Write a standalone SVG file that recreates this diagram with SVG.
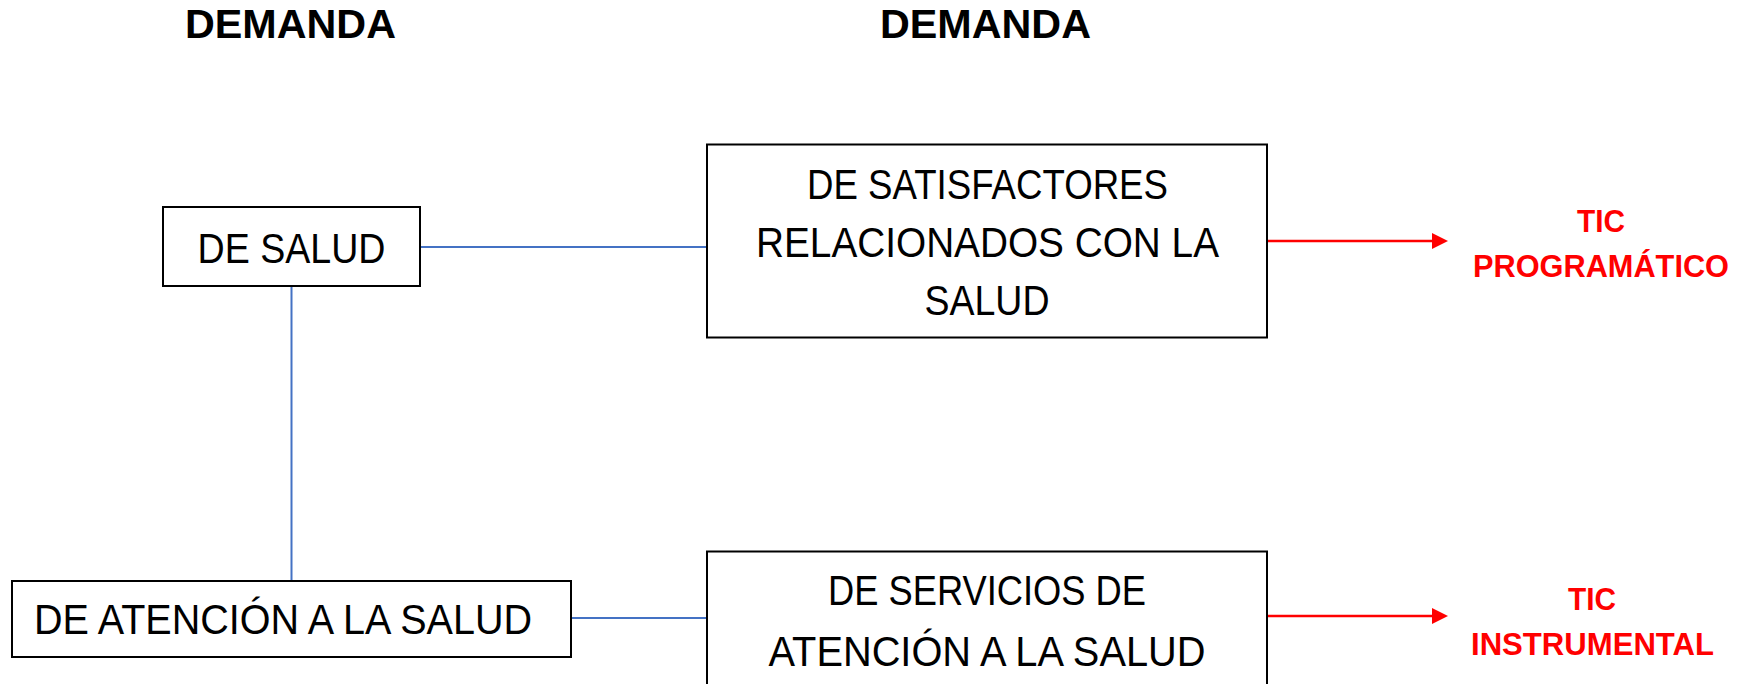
<svg xmlns="http://www.w3.org/2000/svg" width="1741" height="684" viewBox="0 0 1741 684">
<style>
.box{fill:#ffffff;stroke:#000000;stroke-width:2}
.t{font-family:"Liberation Sans",Arial,sans-serif;font-size:42px;fill:#000000;text-anchor:middle}
.h{font-family:"Liberation Sans",Arial,sans-serif;font-size:40px;font-weight:bold;fill:#000000}
.r{font-family:"Liberation Sans",Arial,sans-serif;font-size:32px;font-weight:bold;fill:#ff0000;text-anchor:middle}
.blue{stroke:#4472c4;stroke-width:2;fill:none}
.red{stroke:#ff0000;stroke-width:2.5;fill:none}
</style>
<defs>
<marker id="ah" markerUnits="userSpaceOnUse" markerWidth="16" markerHeight="16" refX="8" refY="8" orient="auto">
<path d="M0,0 L16,8 L0,16 z" fill="#ff0000"/>
</marker>
</defs>
<rect width="1741" height="684" fill="#ffffff"/>
<g id="headers">
<text class="h" x="185" y="38" textLength="211" lengthAdjust="spacingAndGlyphs">DEMANDA</text>
<text class="h" x="880" y="38" textLength="211" lengthAdjust="spacingAndGlyphs">DEMANDA</text>
</g>
<g id="connectors">
<line class="blue" x1="420" y1="247" x2="707" y2="247"/>
<line class="blue" x1="291.5" y1="286" x2="291.5" y2="581"/>
<line class="blue" x1="571" y1="618" x2="707" y2="618"/>
<line class="red" x1="1267" y1="241" x2="1440" y2="241" marker-end="url(#ah)"/>
<line class="red" x1="1267" y1="616" x2="1440" y2="616" marker-end="url(#ah)"/>
</g>
<g id="node-de-salud">
<rect class="box" x="163" y="207" width="257" height="79"/>
<text class="t" x="291.5" y="263" textLength="188" lengthAdjust="spacingAndGlyphs">DE SALUD</text>
</g>
<g id="node-satisfactores">
<rect class="box" x="707" y="144.5" width="560" height="193"/>
<text class="t" x="987.5" y="199" textLength="361" lengthAdjust="spacingAndGlyphs">DE SATISFACTORES</text>
<text class="t" x="987.5" y="257" textLength="463" lengthAdjust="spacingAndGlyphs">RELACIONADOS CON LA</text>
<text class="t" x="987" y="315" textLength="125" lengthAdjust="spacingAndGlyphs">SALUD</text>
</g>
<g id="node-atencion">
<rect class="box" x="12" y="581" width="559" height="76"/>
<text class="t" x="283" y="634" textLength="498" lengthAdjust="spacingAndGlyphs">DE ATENCIÓN A LA SALUD</text>
</g>
<g id="node-servicios">
<rect class="box" x="707" y="551.5" width="560" height="160"/>
<text class="t" x="987" y="605" textLength="318" lengthAdjust="spacingAndGlyphs">DE SERVICIOS DE</text>
<text class="t" x="987" y="666" textLength="437" lengthAdjust="spacingAndGlyphs">ATENCIÓN A LA SALUD</text>
</g>
<g id="label-programatico">
<text class="r" x="1601" y="232" textLength="48" lengthAdjust="spacingAndGlyphs">TIC</text>
<text class="r" x="1601" y="277" textLength="256" lengthAdjust="spacingAndGlyphs">PROGRAMÁTICO</text>
</g>
<g id="label-instrumental">
<text class="r" x="1592" y="610" textLength="48" lengthAdjust="spacingAndGlyphs">TIC</text>
<text class="r" x="1592.5" y="655" textLength="243" lengthAdjust="spacingAndGlyphs">INSTRUMENTAL</text>
</g>
</svg>
